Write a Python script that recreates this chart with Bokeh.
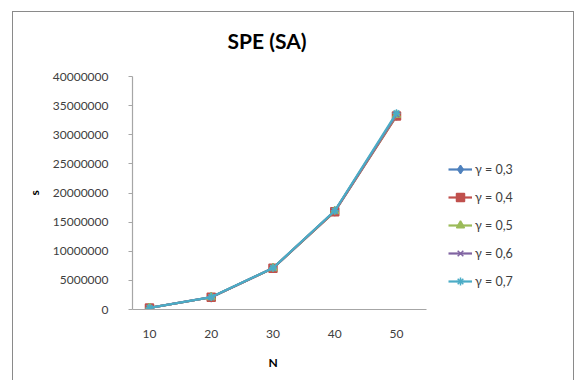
from bokeh.plotting import figure
from bokeh.models import Legend, LegendItem, FixedTicker, Range1d, Title
from bokeh.core.properties import value
from bokeh.embed import file_html
from bokeh.resources import INLINE

N = [10, 20, 30, 40, 50]
series_names = ["γ = 0,3", "γ = 0,4", "γ = 0,5", "γ = 0,6", "γ = 0,7"]
s_03 = [270000, 2110000, 7090000, 16850000, 33300000]
s_04 = [265000, 2100000, 7080000, 16800000, 33200000]
s_05 = [270000, 2110000, 7100000, 16870000, 33400000]
s_06 = [272000, 2120000, 7110000, 16900000, 33500000]
s_07 = [275000, 2130000, 7130000, 16950000, 33700000]
y_ticks = [0, 5000000, 10000000, 15000000, 20000000, 25000000, 30000000, 35000000, 40000000]
x_ticks = [10, 20, 30, 40, 50]
chart_title = "SPE (SA)"
x_title = "N"
y_title = "s"

colors = ["#4F81BD", "#C0504D", "#9BBB59", "#8064A2", "#4BACC6"]
markers = ["diamond", "square", "triangle", "x", "asterisk"]
sizes = [9, 8, 8, 8, 8]
all_series = [s_03, s_04, s_05, s_06, s_07]

FONT = "Lato"
TXT = "#404040"
GRAY = "#a6a6a6"

# frame spans the whole area above/right of the axes; axes are limited with bounds
X0, X1 = 7.25, 78.18
Y0, Y1 = 0, 50990000
p = figure(width=562, height=369, output_backend="svg", toolbar_location=None,
           x_range=Range1d(X0, X1), y_range=Range1d(Y0, Y1),
           min_border_left=119, min_border_right=5, min_border_top=0, min_border_bottom=72)
p.styles = {"margin-left": "12px", "margin-top": "11px",
            "border-left": "1px solid #8a8a8a", "border-top": "1px solid #8a8a8a",
            "border-right": "1px solid #8a8a8a"}
p.outline_line_color = None
p.grid.visible = False
p.background_fill_color = "white"
p.border_fill_color = "white"

p.text(x=[29.03], y=[46180000], text=[chart_title], text_font=value(FONT), text_font_size="21px",
       text_font_style="bold", text_color="#000000", text_align="center", text_baseline="middle")

p.xaxis.ticker = FixedTicker(ticks=x_ticks)
p.yaxis.ticker = FixedTicker(ticks=y_ticks)
p.yaxis.formatter.use_scientific = False
p.xaxis.bounds = (X0, 54.86)
p.yaxis.bounds = (0, 40000000)
for ax in (p.xaxis, p.yaxis):
    ax.axis_line_color = GRAY
    ax.axis_line_width = 1.2
    ax.major_tick_line_color = GRAY
    ax.minor_tick_line_color = None
    ax.major_label_text_font = FONT
    ax.major_label_text_font_size = "12px"
    ax.major_label_text_color = TXT
p.xaxis.major_tick_out = 0
p.xaxis.major_tick_in = 0
p.xaxis.major_label_standoff = 20
p.yaxis.major_tick_out = 4
p.yaxis.major_tick_in = 0
p.yaxis.major_label_standoff = 20

xt = Title(text=x_title, align="left", offset=136, text_font=FONT, text_font_size="12px",
           text_font_style="bold", text_color="#000000", standoff=24)
p.add_layout(xt, "below")
yt = Title(text=y_title, align="left", offset=114, text_font=FONT, text_font_size="12px",
           text_font_style="bold", text_color="#000000", standoff=15)
p.add_layout(yt, "left")

items = []
for name, ys, c, m, sz in zip(series_names, all_series, colors, markers, sizes):
    r1 = p.line(N, ys, line_color=c, line_width=2.2)
    r2 = p.scatter(N, ys, marker=m, size=sz, fill_color=c, line_color=c, line_width=1.5)
    items.append(LegendItem(label=name, renderers=[r1, r2]))

legend = Legend(items=items, location=(316, 18), label_text_font=FONT, label_text_font_size="12.5px",
                label_text_color=TXT, glyph_width=24, glyph_height=20, label_height=20,
                spacing=8, padding=0, margin=0, border_line_color=None,
                background_fill_alpha=0, label_standoff=3)
p.add_layout(legend, "center")

open("out.html", "w").write(file_html(p, INLINE))
